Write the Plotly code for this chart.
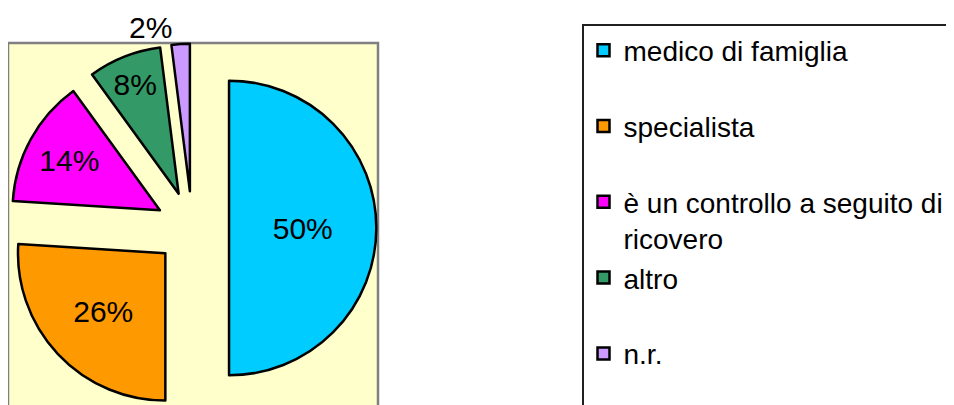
# Torta: chi ha prescritto la visita

import plotly.graph_objects as go

labels = [
    "medico di famiglia<br> ",
    "specialista<br> ",
    "è un controllo a seguito di<br>ricovero",
    "altro<br> ",
    "n.r.<br> ",
]
values = [50, 26, 14, 8, 2]
colors = ["#00CCFF", "#FF9900", "#FF00FF", "#339966", "#CC99FF"]
text_pos = ["inside", "inside", "inside", "inside", "outside"]

FONT = "Liberation Sans, Arial, sans-serif"
W, H = 954, 405
OFF = 8  # margine del body della pagina

fig = go.Figure(
    go.Pie(
        labels=labels,
        values=values,
        sort=False,
        direction="clockwise",
        rotation=0,
        pull=0.25,
        marker=dict(colors=colors, line=dict(color="black", width=2.5)),
        textinfo="percent",
        textposition=text_pos,
        insidetextorientation="horizontal",
        textfont=dict(family=FONT, size=30, color="black"),
        hoverinfo="skip",
        domain=dict(x=[0, 368.4 / W], y=[1 - 404.4 / H, 1 - 35.6 / H]),
    )
)

# area del grafico (sfondo giallo)
fig.add_shape(
    type="rect", xref="paper", yref="paper",
    x0=(8 - OFF) / W, x1=(378 - OFF) / W, y0=-0.1, y1=1 - (43 - OFF) / H,
    fillcolor="#FFFFCC", line=dict(color="#808080", width=2.5),
    layer="below",
)

fig.update_layout(
    width=W,
    height=H,
    margin=dict(l=0, r=0, t=0, b=0, autoexpand=False),
    paper_bgcolor="white",
    font=dict(family=FONT, color="black"),
    uniformtext=dict(mode="show", minsize=30),
    legend=dict(
        x=(582 - OFF) / W, y=1 - (24 - OFF) / H,
        xanchor="left", yanchor="top",
        valign="top",
        entrywidth=390,
        entrywidthmode="pixels",
        font=dict(family=FONT, size=28, color="black"),
        bgcolor="white",
        bordercolor="#202020",
        borderwidth=1.5,
    ),
)

fig.write_html("out.html")
